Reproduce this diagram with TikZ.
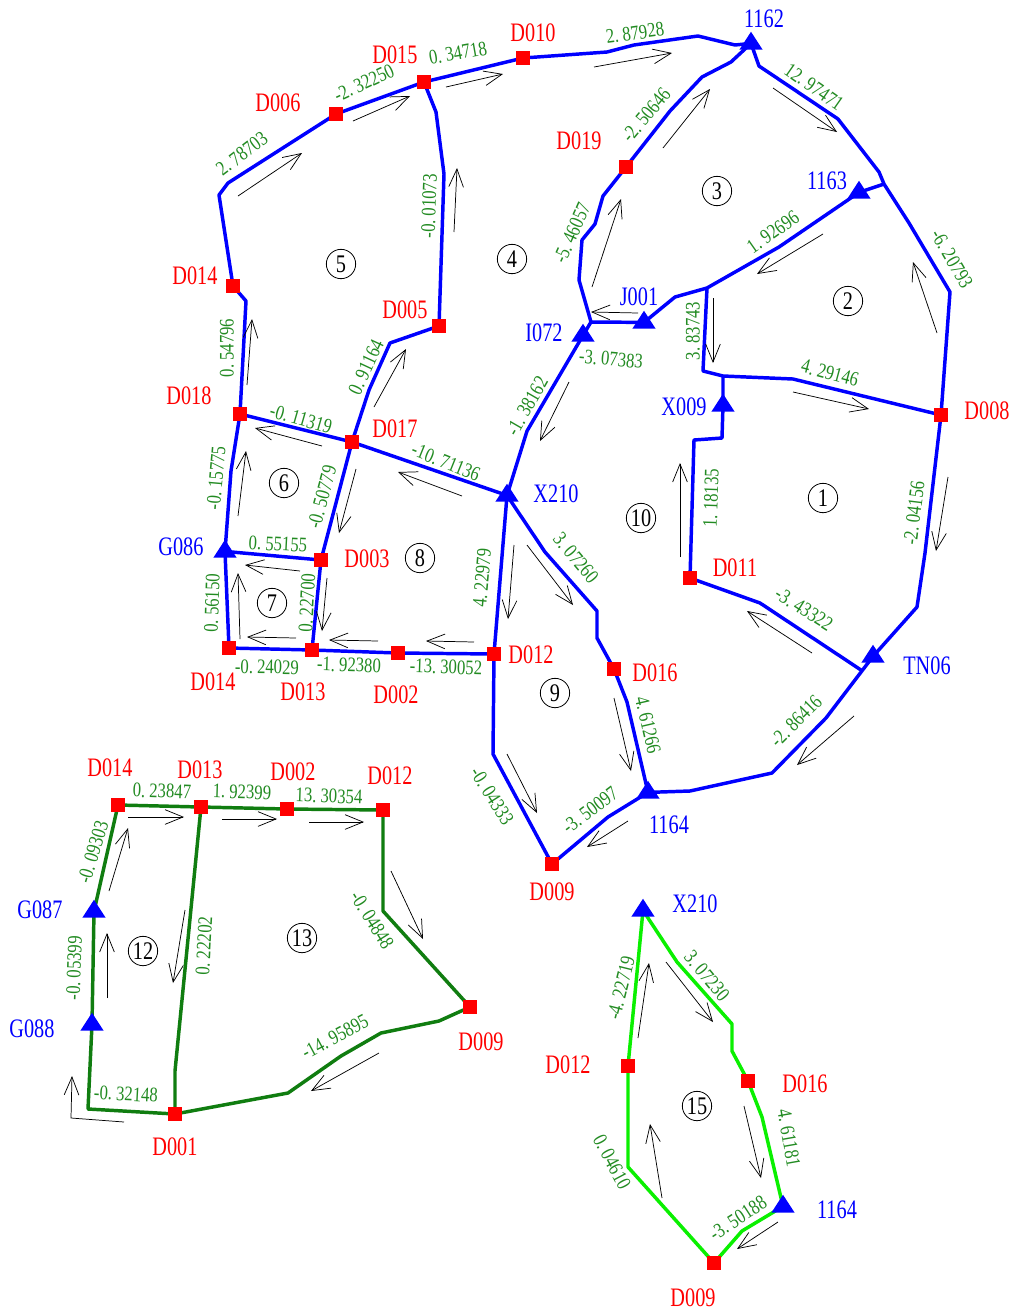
\documentclass[tikz,border=0pt]{standalone}
\usepackage{fontspec}
\usetikzlibrary{arrows.meta,shapes.geometric,backgrounds}
\newfontfamily\namefont[FakeStretch=.76]{Liberation Serif}
\newfontfamily\edgefont[FakeStretch=.81]{Liberation Serif}
\newfontfamily\circfont[FakeStretch=.8]{Liberation Serif}
\newcommand\dt{.\kern3pt}
\definecolor{tblue}{RGB}{0,0,255}
\definecolor{tred}{RGB}{255,0,0}
\definecolor{lgreen}{RGB}{34,139,34}
\definecolor{dgreen}{RGB}{16,125,16}
\definecolor{bgreen}{RGB}{10,240,0}
\tikzset{
  x=.75pt,y=-.75pt,
  sq/.style={rectangle,fill=tred,minimum size=11pt,inner sep=0pt},
  tri/.style={isosceles triangle,shape border rotate=90,isosceles triangle stretches,
     minimum width=17.5pt,minimum height=13.5pt,inner sep=0pt,fill=tblue,anchor=lower side},
  rname/.style={text=tred,inner sep=0pt,font=\namefont\fontsize{20pt}{21pt}\selectfont},
  bname/.style={text=tblue,inner sep=0pt,font=\namefont\fontsize{20pt}{21pt}\selectfont},
  val/.style={text=lgreen,inner sep=0pt,font=\edgefont\fontsize{15.5pt}{17pt}\selectfont},
  reg/.style={circle,draw=black,line width=.6pt,minimum size=22pt,inner sep=0pt,font=\circfont\fontsize{19pt}{20pt}\selectfont},
  blue edge/.style={draw=tblue,line width=2.6pt,line join=round},
  dark edge/.style={draw=dgreen,line width=2.6pt,line join=round},
  bright edge/.style={draw=bgreen,line width=2.6pt,line join=round},
  flow/.style={draw=black,line width=.55pt,-{Straight Barb[length=13.5pt,width=11pt,line width=.55pt]}},
}
\newcount\flowno
\newcommand\fl[2]{\global\advance\flowno by 1
  \coordinate (fa\the\flowno) at (#1);\coordinate (fb\the\flowno) at (#2);
  \draw[flow] (fa\the\flowno) -- (fb\the\flowno);}
\newcount\valno
\newcommand\vl[3]{\global\advance\valno by 1
  \node[val,rotate=#2] (v\the\valno) at (#1) {#3};}
\begin{document}
\begin{tikzpicture}
\useasboundingbox (0,0) rectangle (1016,1315);
% upper network stations
\node[sq] (d015) at (424,82) {};
\node[sq] (d010) at (523,58) {};
\node[sq] (d006) at (336,114) {};
\node[sq] (d014) at (233,286) {};
\node[sq] (d005) at (439,326) {};
\node[sq] (d019) at (626,167) {};
\node[sq] (d018) at (240,414) {};
\node[sq] (d017) at (352,442) {};
\node[sq] (d003) at (321,560) {};
\node[sq] (d014b) at (229,648) {};
\node[sq] (d013) at (312,650) {};
\node[sq] (d002) at (398,653) {};
\node[sq] (d012) at (494,654) {};
\node[sq] (d016) at (614,669) {};
\node[sq] (d009) at (552,864) {};
\node[sq] (d011) at (690,578) {};
\node[sq] (d008) at (941,415) {};
\node[tri] (t1162) at (751,50) {};
\node[tri] (t1163) at (859,199) {};
\node[tri] (j001) at (644,329) {};
\node[tri] (i072) at (583,342) {};
\node[tri] (x009) at (723,412) {};
\node[tri] (x210) at (507,502) {};
\node[tri] (g086) at (225,558) {};
\node[tri] (tn06) at (873,663) {};
\node[tri] (t1164) at (648,799) {};
% lower-left network stations
\node[sq] (l014) at (118,805) {};
\node[sq] (l013) at (201,807) {};
\node[sq] (l002) at (287,809) {};
\node[sq] (l012) at (383,810) {};
\node[sq] (l009) at (470,1007) {};
\node[sq] (l001) at (175,1114) {};
\node[tri] (g087) at (94,918) {};
\node[tri] (g088) at (92,1031) {};
% lower-right network stations
\node[tri] (rx210) at (643,917) {};
\node[sq] (r012) at (628,1066) {};
\node[sq] (r016) at (748,1081) {};
\node[tri] (r1164) at (783,1213) {};
\node[sq] (r009) at (714,1263) {};
% junctions
\coordinate (ja) at (707,288);
\coordinate (jb) at (723,376);
\coordinate (jc) at (884,184);
\coordinate (jd) at (591,322);
\coordinate (je) at (861,670);
\begin{scope}[on background layer]
\path[fill=white] (0,0) rectangle (1016,1315);
\draw[blue edge] (d014.center) -- (219,195) -- (228,183) -- (d006.center) -- (d015.center) -- (d010.center) -- (607,52) -- (634,45) -- (698,36) -- (735,45) -- (t1162.center);
\draw[blue edge] (d015.center) -- (436,112) -- (444,174) -- (d005.center);
\draw[blue edge] (d014.center) -- (246,301) -- (d018.center);
\draw[blue edge] (d005.center) -- (390,343) -- (369,390) -- (d017.center);
\draw[blue edge] (d018.center) -- (d017.center) -- (x210.center);
\draw[blue edge] (d018.center) -- (231,471) -- (g086.center);
\draw[blue edge] (g086.center) -- (d003.center);
\draw[blue edge] (d014b.center) -- (g086.center);
\draw[blue edge] (d017.center) -- (d003.center) -- (d013.center);
\draw[blue edge] (d014b.center) -- (d013.center) -- (d002.center) -- (d012.center) -- (x210.center);
\draw[blue edge] (x210.center) -- (545,552) -- (597,611) -- (597,638) -- (d016.center) -- (627,702) -- (t1164.center);
\draw[blue edge] (d012.center) -- (493,754) -- (d009.center) -- (608,817) -- (t1164.center);
\draw[blue edge] (t1164.center) -- (690,791) -- (772,773) -- (826,718) -- (tn06.center) -- (917,607) -- (925,553) -- (d008.center);
\draw[blue edge] (d011.center) -- (760,603) -- (je);
\draw[blue edge] (d011.center) -- (694,440) -- (722,438) -- (x009.center) -- (jb);
\draw[blue edge] (ja) -- (703,371) -- (jb) -- (793,379) -- (d008.center);
\draw[blue edge] (jc) -- (t1163.center) -- (779,247) -- (ja) -- (675,297) -- (j001.center) -- (jd);
\draw[blue edge] (i072.center) -- (jd) -- (579,280) -- (582,240) -- (595,224) -- (603,196) -- (d019.center) -- (670,111) -- (702,77) -- (731,62) -- (t1162.center);
\draw[blue edge] (t1162.center) -- (759,66) -- (838,119) -- (879,172) -- (jc) -- (909,223) -- (950,292) -- (d008.center);
\draw[blue edge] (x210.center) -- (527,431) -- (i072.center);
\draw[dark edge] (l001.center) -- (88,1109) -- (g088.center) -- (g087.center) -- (l014.center) -- (l013.center) -- (l002.center) -- (l012.center) -- (383,911) -- (l009.center) -- (439,1021) -- (381,1033) -- (341,1056) -- (288,1093) -- (l001.center);
\draw[dark edge] (l001.center) -- (175,1071) -- (l013.center);
\draw[bright edge] (rx210.center) -- (677,962) -- (732,1024) -- (732,1051) -- (r016.center) -- (762,1117) -- (r1164.center) -- (742,1231) -- (r009.center) -- (628,1167) -- (r012.center) -- (rx210.center);
\end{scope}
% flow arrows
\fl{238,196}{302,153}
\fl{353,121}{410,96}
\fl{446,87}{503,74}
\fl{454,232}{457,168}
\fl{594,67}{672,53}
\fl{663,148}{710,89}
\fl{773,88}{837,132}
\fl{592,287}{621,199}
\fl{823,234}{757,274}
\fl{937,333}{913,262}
\fl{638,313}{591,312}
\fl{713,298}{713,363}
\fl{793,392}{869,409}
\fl{569,382}{540,441}
\fl{322,446}{255,428}
\fl{462,496}{398,472}
\fl{238,516}{246,451}
\fl{356,469}{339,533}
\fl{300,571}{245,565}
\fl{240,639}{238,573}
\fl{327,578}{322,631}
\fl{296,638}{247,637}
\fl{378,641}{329,640}
\fl{474,642}{426,641}
\fl{514,545}{508,619}
\fl{374,407}{406,349}
\fl{247,385}{252,319}
\fl{680,557}{680,463}
\fl{948,477}{936,551}
\fl{812,653}{747,611}
\fl{527,545}{573,605}
\fl{854,716}{797,765}
\fl{614,698}{631,771}
\fl{507,754}{537,813}
\fl{628,821}{587,847}
\fl{128,817}{184,817}
\fl{222,819}{277,819}
\fl{309,822}{364,822}
\fl{109,891}{128,828}
\fl{107,998}{107,933}
\fl{185,910}{173,983}
\fl{391,871}{423,939}
\fl{379,1053}{311,1091}
\coordinate (ela) at (124,1122);
\coordinate (elb) at (72,1076);
\draw[flow] (ela) -- (71,1118) -- (elb);
\fl{638,1038}{649,963}
\fl{666,962}{713,1022}
\fl{744,1106}{761,1178}
\fl{778,1222}{737,1249}
\fl{662,1198}{650,1124}
% station names
\node[rname] (nd015) at (395,55) {D015};
\node[rname] (nd010) at (533,33) {D010};
\node[rname] (nd006) at (278,103) {D006};
\node[rname] (nd014) at (195,276) {D014};
\node[rname] (nd005) at (405,310) {D005};
\node[rname] (nd019) at (579,141) {D019};
\node[bname] (n1162) at (764,19) {1162};
\node[bname] (n1163) at (827,181) {1163};
\node[bname] (nj001) at (639,297) {J001};
\node[bname] (ni072) at (544,333) {I072};
\node[rname] (nd008) at (987,411) {D008};
\node[bname] (nx009) at (684,407) {X009};
\node[rname] (nd018) at (189,396) {D018};
\node[rname] (nd017) at (395,429) {D017};
\node[bname] (nx210) at (556,494) {X210};
\node[bname] (ng086) at (181,547) {G086};
\node[rname] (nd003) at (367,559) {D003};
\node[rname] (nd011) at (735,568) {D011};
\node[rname] (nd012) at (531,655) {D012};
\node[rname] (nd016) at (655,673) {D016};
\node[bname] (ntn06) at (927,666) {TN06};
\node[rname] (nd014b) at (213,682) {D014};
\node[rname] (nd013) at (303,692) {D013};
\node[rname] (nd002) at (396,695) {D002};
\node[bname] (n1164) at (669,825) {1164};
\node[rname] (nd009) at (552,892) {D009};
\node[rname] (nl014) at (110,768) {D014};
\node[rname] (nl013) at (200,770) {D013};
\node[rname] (nl002) at (293,772) {D002};
\node[rname] (nl012) at (390,776) {D012};
\node[bname] (ng087) at (40,910) {G087};
\node[bname] (ng088) at (32,1029) {G088};
\node[rname] (nl009) at (481,1042) {D009};
\node[rname] (nl001) at (175,1147) {D001};
\node[bname] (nrx210) at (695,904) {X210};
\node[rname] (nr012) at (568,1065) {D012};
\node[rname] (nr016) at (805,1084) {D016};
\node[bname] (nr1164) at (837,1210) {1164};
\node[rname] (nr009) at (693,1298) {D009};
% edge values
\vl{242,154}{37}{2\dt78703}
\vl{364,83}{25}{-2\dt32250}
\vl{458,53}{10}{0\dt34718}
\vl{429,206}{88}{-0\dt01073}
\vl{635,33}{8}{2\dt87928}
\vl{814,87}{-35}{12\dt97471}
\vl{646,115}{50}{-2\dt50646}
\vl{572,233}{66}{-5\dt46057}
\vl{773,232}{35}{1\dt92696}
\vl{952,259}{-60}{-6\dt20793}
\vl{693,331}{90}{3\dt83743}
\vl{830,373}{-15}{4\dt29146}
\vl{611,359}{-5}{-3\dt07383}
\vl{227,348}{90}{0\dt54796}
\vl{366,367}{65}{0\dt91164}
\vl{301,419}{-16}{-0\dt11319}
\vl{446,462}{-22}{-10\dt71136}
\vl{527,406}{60}{-1\dt38162}
\vl{216,478}{85}{-0\dt15775}
\vl{322,497}{75}{-0\dt50779}
\vl{278,544}{-3}{0\dt55155}
\vl{212,603}{88}{0\dt56150}
\vl{307,603}{87}{0\dt22700}
\vl{482,578}{85}{4\dt22979}
\vl{267,667}{-1}{-0\dt24029}
\vl{349,665}{-2}{-1\dt92380}
\vl{446,667}{-2}{-13\dt30052}
\vl{576,558}{-50}{3\dt07260}
\vl{711,498}{88}{1\dt18135}
\vl{804,609}{-32}{-3\dt43322}
\vl{914,513}{83}{-2\dt04156}
\vl{796,721}{45}{-2\dt86416}
\vl{648,725}{-77}{4\dt61266}
\vl{590,810}{37}{-3\dt50097}
\vl{492,796}{-58}{-0\dt04333}
\vl{93,852}{73}{-0\dt09303}
\vl{74,968}{88}{-0\dt05399}
\vl{162,791}{-2}{0\dt23847}
\vl{242,792}{-2}{1\dt92399}
\vl{329,796}{-2}{13\dt30354}
\vl{204,946}{87}{0\dt22202}
\vl{372,920}{-58}{-0\dt04848}
\vl{335,1037}{28}{-14\dt95895}
\vl{126,1094}{-3}{-0\dt32148}
\vl{621,988}{76}{-4\dt22719}
\vl{707,976}{-50}{3\dt07230}
\vl{789,1138}{-80}{4\dt61181}
\vl{738,1218}{33}{-3\dt50188}
\vl{612,1162}{-62}{0\dt04610}
% region numbers
\node[reg] (r1) at (823,498) {1};
\node[reg] (r2) at (848,301) {2};
\node[reg] (r3) at (717,191) {3};
\node[reg] (r4) at (512,259) {4};
\node[reg] (r5) at (341,264) {5};
\node[reg] (r6) at (284,483) {6};
\node[reg] (r7) at (272,603) {7};
\node[reg] (r8) at (420,558) {8};
\node[reg] (r9) at (555,693) {9};
\node[reg] (r10) at (641,518) {10};
\node[reg] (r12) at (143,951) {12};
\node[reg] (r13) at (302,938) {13};
\node[reg] (r15) at (697,1106) {15};
\end{tikzpicture}
\end{document}
